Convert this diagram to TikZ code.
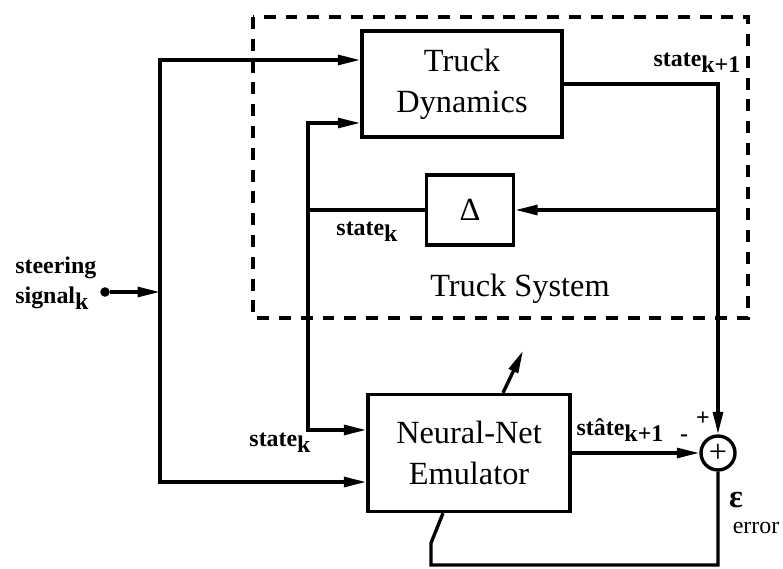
\documentclass[tikz,border=0pt]{standalone}
\usepackage{fontspec}
\setmainfont{Liberation Serif}
\usetikzlibrary{positioning,arrows.meta}

\newcommand{\bigfont}{\fontsize{23}{29}\selectfont}
\newcommand{\smallfont}{\fontsize{17}{21}\selectfont\bfseries}
\newcommand{\dn}[1]{\raisebox{-0.55ex}{#1}}

\begin{document}
\begin{tikzpicture}[x=0.025cm, y=-0.025cm]
\tikzset{
    block/.style={rectangle, draw, line width=2.4pt, font=\bigfont, align=center},
    sum/.style={circle, draw, line width=2.4pt, minimum size=0.85cm, inner sep=0pt, font=\bigfont},
    wire/.style={line width=2.4pt},
    edge/.style={-{Triangle[length=16pt, width=7pt]}, line width=2.4pt},
    lbl/.style={font=\smallfont, inner sep=1pt}
}
\useasboundingbox (0,0) rectangle (783,569);

% blocks
\node[block, minimum width=5cm, minimum height=2.65cm] (dyn) at (462,84) {Truck\\Dynamics};
\node[block, minimum width=2.175cm, minimum height=1.75cm] (delta) at (470,210) {Δ};
\node[block, minimum width=5.05cm, minimum height=2.925cm] (nn) at (469,453) {Neural-Net\\Emulator};
\node[sum] (sum) at (718,453) {+};

% truck system frame
\draw[wire, dash pattern=on 8.5pt off 7pt] (253,17) rectangle (748,318);
\node[font=\bigfont] (sys) at (520,289) {Truck System};

% input
\node[circle, fill, inner sep=2.4pt] (src) at (105,292) {};
\node[lbl, align=left, anchor=east] (steer) at (98,283) {steering\\signal\dn{k}};
\coordinate (split) at (160,292);
\coordinate (fb) at (delta.west -| 308,0);
\coordinate (tap) at (sum |- delta.east);

% connectors
\draw[edge] (src) -- (split);
\draw[edge] (split) |- ([yshift=0.6cm]dyn.west);
\draw[edge] (split) |- ([yshift=-0.725cm]nn.west);

\draw[edge] (dyn.east) -| (sum.north);
\draw[edge] (tap) -- (delta.east);
\draw[wire] (delta.west) -- (fb);
\draw[edge] (fb) |- ([yshift=-0.975cm]dyn.west);
\draw[edge] (fb) |- ([yshift=0.575cm]nn.west);

\draw[edge] (nn.east) -- (sum.west);
\draw[wire] (sum.south) -- (sum |- 0,565) -| (431,543) -- ([xshift=-0.65cm]nn.south);
\draw[edge] ([xshift=0.85cm]nn.north) -- ++(20,-42);

% labels
\node[lbl, anchor=east] (snext) at (742,63) {state\dn{k+1}};
\node[lbl] (sk1) at (367,232) {state\dn{k}};
\node[lbl] (sk2) at (280,443) {state\dn{k}};
\node[lbl] (shat) at (620,430) {st\^{a}te\dn{k+1}};
\node[lbl] (plus) at (703,419) {+};
\node[lbl] (minus) at (684,438) {-};
\node[font=\bigfont\bfseries] (eps) at (736,500) {ε};
\node[font=\fontsize{17}{21}\selectfont, inner sep=1pt, anchor=east] (err) at (781,528) {error};
\end{tikzpicture}
\end{document}
